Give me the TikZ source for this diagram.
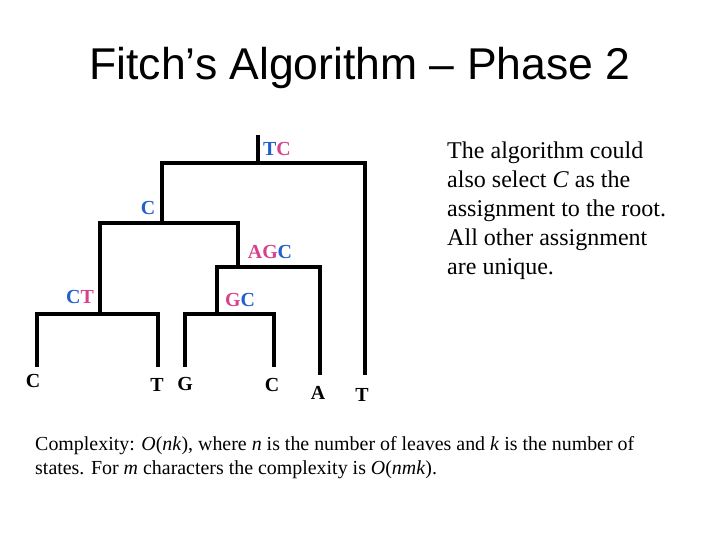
\documentclass[tikz,border=0pt]{standalone}
\usepackage{fontspec}
\setmainfont{Liberation Serif}
\newfontfamily\titlefont{Liberation Sans}
\usetikzlibrary{positioning}
\definecolor{stblue}{RGB}{35,95,200}
\definecolor{stpink}{RGB}{215,65,140}
\tikzset{
  branch/.style={line width=3pt, line cap=rect},
  leaf/.style={font=\fontsize{17}{20}\selectfont\bfseries, inner sep=0pt},
  set/.style={font=\fontsize{17}{20}\selectfont\bfseries, inner sep=0pt}
}
\newcommand{\B}[1]{\textcolor{stblue}{#1}}
\newcommand{\Pk}[1]{\textcolor{stpink}{#1}}
\begin{document}
\begin{tikzpicture}[x=0.03cm,y=-0.03cm]
  \useasboundingbox (0,0) rectangle (720,540);

  % Title
  \node[font=\titlefont\fontsize{38}{44}\selectfont] (title) at (360,68) {Fitch’s Algorithm – Phase 2};

  % Tree junctions
  \coordinate (root) at (258,163);
  \coordinate (top) at (258,137);
  \coordinate (nC) at (162,223);
  \coordinate (nCT) at (100,314);
  \coordinate (nAGC) at (238,267);
  \coordinate (nGC) at (217,314);

  % Leaves
  \coordinate (l1) at (37,365);
  \coordinate (l2) at (158,365);
  \coordinate (l3) at (185,365);
  \coordinate (l4) at (274,365);
  \coordinate (l5) at (320,373);
  \coordinate (l6) at (365,373);

  % Branches
  \draw[branch] (top) -- (root);
  \draw[branch] (nC |- root) -| (l6);
  \draw[branch] (nC |- root) -- (nC) ;
  \draw[branch] (nCT |- nC) -- (nAGC |- nC) -- (nAGC);
  \draw[branch] (nCT |- nC) -- (nCT);
  \draw[branch] (l1) |- (l2 |- nCT) -- (l2);
  \draw[branch] (nGC |- nAGC) -| (l5);
  \draw[branch] (nGC |- nAGC) -- (nGC);
  \draw[branch] (l3) |- (l4 |- nGC) -- (l4);

  % Sets
  \node[set] (sTC) at (277,149) {\B{T}\Pk{C}};
  \node[set] (sC) at (148,208) {\B{C}};
  \node[set] (sAGC) at (270,252) {\Pk{AG}\B{C}};
  \node[set] (sCT) at (80,297) {\B{C}\Pk{T}};
  \node[set] (sGC) at (240,300) {\Pk{G}\B{C}};

  % Leaf labels
  \node[leaf] (t1) at (33,381) {C};
  \node[leaf] (t2) at (157,385) {T};
  \node[leaf] (t3) at (185,384) {G};
  \node[leaf] (t4) at (272,385) {C};
  \node[leaf] (t5) at (318,393) {A};
  \node[leaf] (t6) at (362,395) {T};

  % Remarks
  \node[anchor=north west, align=left, inner sep=0pt, font=\fontsize{20.5}{24.6}\selectfont] (note) at (447,142)
    {The algorithm could\\also select \textit{C} as the\\assignment to the root.\\All other assignment\\are unique.};
  \node[anchor=north west, align=left, inner sep=0pt, font=\fontsize{17}{20.4}\selectfont] (cplx) at (35,436)
    {Complexity: \textit{O}(\textit{nk}), where \textit{n} is the number of leaves and \textit{k} is the number of\\states. For \textit{m} characters the complexity is \textit{O}(\textit{nmk}).};
\end{tikzpicture}
\end{document}
